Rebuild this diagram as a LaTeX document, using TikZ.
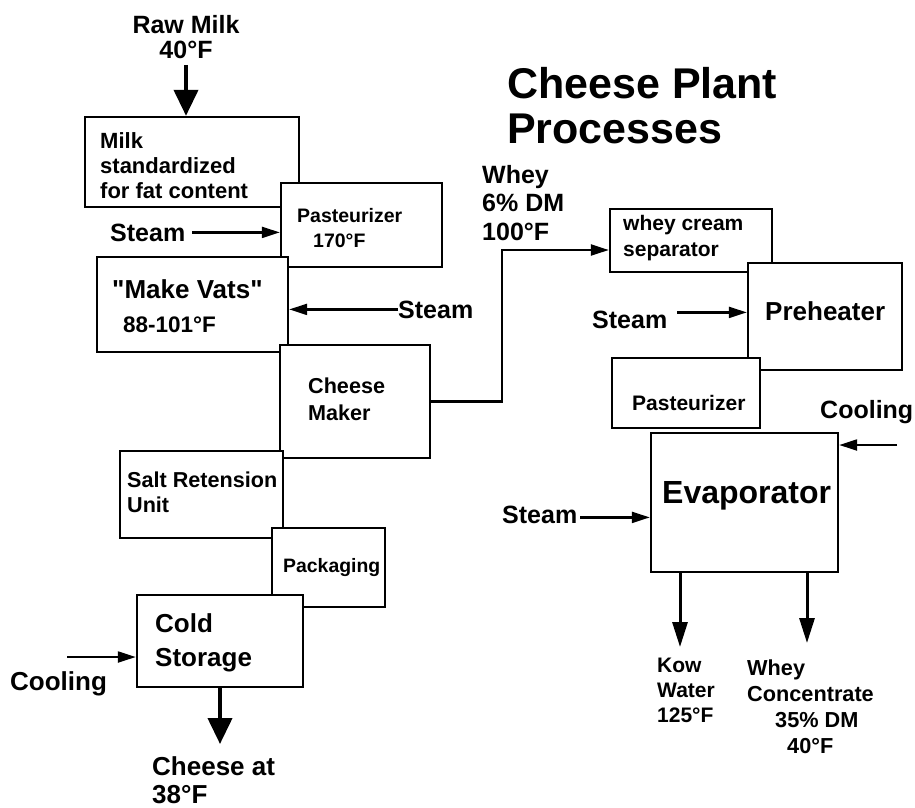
\documentclass[tikz,border=0pt]{standalone}
\usepackage{fontspec}
\setmainfont{Liberation Sans}[Ligatures=TeXOff]
\usetikzlibrary{fit,arrows.meta}
\newcommand\fsz[2]{\fontsize{#1}{#2}\selectfont\bfseries}
\begin{document}
\begin{tikzpicture}[x=1pt,y=-1pt,
  box/.style={draw, line width=2.4pt, fill=white, inner sep=0pt},
  txt/.style={inner sep=0pt, align=left, anchor=north west},
  lbl/.style={inner sep=0pt, anchor=base west},
  thinarrow/.style={line width=2.2pt, -{Triangle[length=18pt,width=11pt]}},
  midarrow/.style={line width=3pt, -{Triangle[length=25pt,width=15pt]}},
  fatarrow/.style={line width=4pt, -{Triangle[length=26pt,width=24pt]}}]
\useasboundingbox (0,0) rectangle (915,807);
% left chain boxes
\node[box, fit={(85,117) (299,207)}] (milk) {};
\node[box, fit={(281,183) (442,267)}] (pastA) {};
\node[box, fit={(97,257) (288,352)}] (vats) {};
\node[box, fit={(280,345) (430,458)}] (cm) {};
\node[box, fit={(120,451) (283,538)}] (salt) {};
\node[box, fit={(272,528) (385,607)}] (pack) {};
\node[box, fit={(137,595) (303,687)}] (cold) {};
% right chain boxes
\node[box, fit={(610,209) (772,272)}] (sep) {};
\node[box, fit={(748,263) (902,370)}] (pre) {};
\node[box, fit={(612,358) (760,428)}] (pastB) {};
\node[box, fit={(651,433) (838,572)}] (evap) {};
% texts
\node[txt, font=\fsz{43}{45}] (title) at (507,67) {Cheese Plant\\Processes};
\node[txt, anchor=north, align=center, font=\fsz{25}{25}] (raw) at (186,15) {Raw Milk\\40°F};
\node[txt, font=\fsz{22}{25}] (milkt) at (100,132) {Milk\\standardized\\for fat content};
\node[txt, font=\fsz{19.5}{25}] (pastAt) at (297,208) {Pasteurizer\\\hspace*{16pt}170°F};
\node[lbl, font=\fsz{25}{25}] (steamA) at (110,241) {Steam};
\node[lbl, font=\fsz{26}{26}] (vatst) at (112,298) {"Make Vats"};
\node[lbl, font=\fsz{22.5}{22.5}] (vatsT) at (123,332) {88-101°F};
\node[lbl, font=\fsz{25}{25}] (steamB) at (398,318) {Steam};
\node[txt, font=\fsz{21.6}{27}] (cmt) at (308,378) {Cheese\\Maker};
\node[txt, font=\fsz{21.6}{25}] (saltt) at (127,472) {Salt Retension\\Unit};
\node[lbl, font=\fsz{19.4}{20}] (packt) at (283,572) {Packaging};
\node[txt, font=\fsz{26}{34}] (coldt) at (155,613) {Cold\\Storage};
\node[lbl, font=\fsz{26}{26}] (coolA) at (10,690) {Cooling};
\node[txt, font=\fsz{26}{28}] (out) at (152,756) {Cheese at\\38°F};
\node[txt, font=\fsz{25}{28.5}] (whey) at (482,165) {Whey\\6\% DM\\100°F};
\node[txt, font=\fsz{21}{26}] (sept) at (623,215) {whey cream\\separator};
\node[lbl, font=\fsz{26}{26}] (pret) at (765,320) {Preheater};
\node[lbl, font=\fsz{25}{25}] (steamC) at (592,328) {Steam};
\node[lbl, font=\fsz{21}{21}] (pastBt) at (632,410) {Pasteurizer};
\node[lbl, font=\fsz{25}{25}] (coolB) at (820,418) {Cooling};
\node[lbl, font=\fsz{32}{32}] (evapt) at (662,503) {Evaporator};
\node[lbl, font=\fsz{25}{25}] (steamD) at (502,523) {Steam};
\node[txt, font=\fsz{21}{25}] (kow) at (657,658) {Kow\\Water\\125°F};
\node[txt, font=\fsz{21.7}{26}] (wc) at (747,660) {Whey\\Concentrate\\\hspace*{28pt}35\% DM\\\hspace*{40pt}40°F};
% coordinates for free ends
\coordinate (wturn) at (502,250);
\coordinate (coolAend) at (67,657);
\coordinate (coolBend) at (897,445);
\coordinate (kowtip) at (680,647);
\coordinate (wctip) at (807,643);
% connectors
\draw[fatarrow, shorten <=6pt] (raw.south) -- (raw.south |- milk.north);
\draw[thinarrow, shorten <=7pt] (steamA.east) -- (steamA.east -| pastA.west);
\draw[thinarrow] (steamB.west) -- (steamB.west -| vats.east);
\draw[thinarrow] (cm.east) -| (wturn) -- (wturn -| sep.west);
\draw[thinarrow, shorten <=10pt] ([yshift=7pt]steamC.east) -- ([yshift=7pt]steamC.east -| pre.west);
\draw[thinarrow] (coolBend) -- (coolBend -| evap.east);
\draw[thinarrow, shorten <=3pt] ([yshift=-3pt]steamD.east) -- ([yshift=-3pt]steamD.east -| evap.west);
\draw[midarrow] (kowtip |- evap.south) -- (kowtip);
\draw[midarrow] (wctip |- evap.south) -- (wctip);
\draw[thinarrow] (coolAend) -- (coolAend -| cold.west);
\draw[fatarrow] (cold.south) -- ([yshift=12pt]cold.south |- out.north);
\end{tikzpicture}
\end{document}
